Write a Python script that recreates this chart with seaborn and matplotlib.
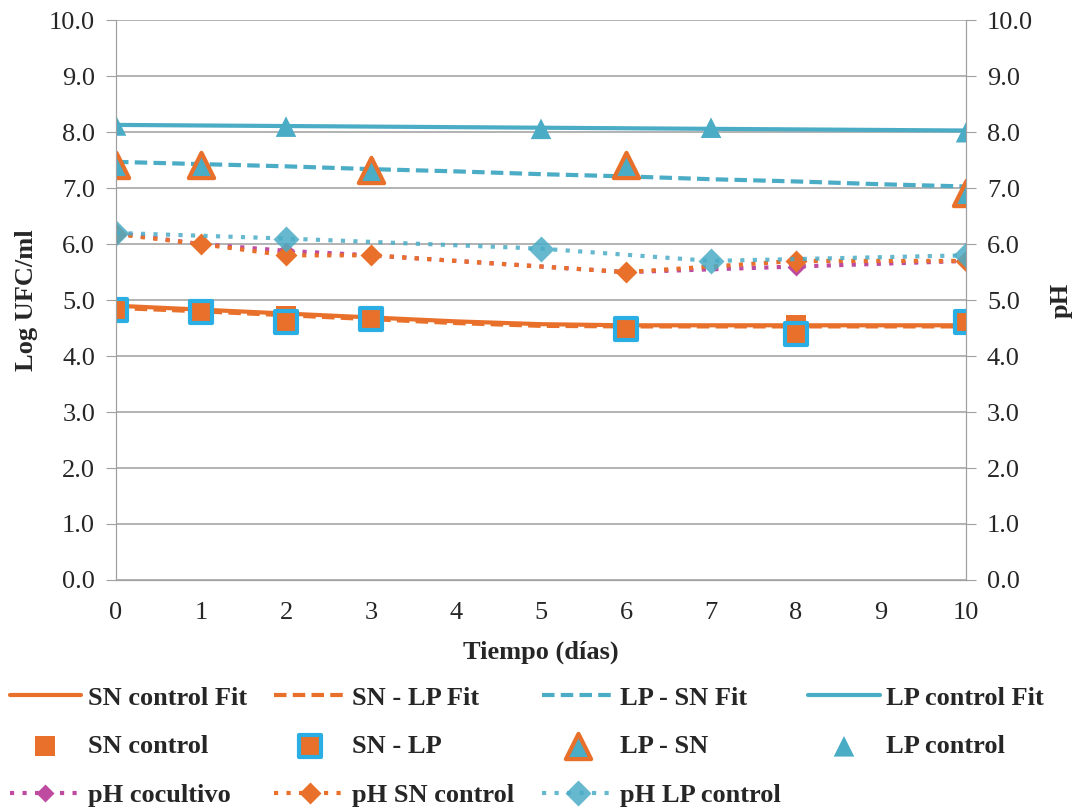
import matplotlib
matplotlib.use("Agg")
import matplotlib.pyplot as plt
import seaborn as sns

# Measured points (Log UFC/ml)
days_sn = [0, 1, 2, 3, 6, 8, 10]
sn_control = [4.85, 4.83, 4.72, 4.68, 4.50, 4.56, 4.60]
sn_lp = [4.82, 4.79, 4.60, 4.66, 4.48, 4.40, 4.60]

days_lp_sn = [0, 1, 3, 6, 10]
lp_sn = [7.42, 7.42, 7.33, 7.41, 6.92]

days_lp = [0, 2, 5, 7, 10]
lp_control = [8.12, 8.10, 8.06, 8.08, 8.00]

# Fitted curves
days_fit = [0, 1, 2, 3, 4, 5, 6, 7, 8, 9, 10]
sn_control_fit = [4.90, 4.83, 4.76, 4.69, 4.62, 4.57, 4.55, 4.55, 4.55, 4.55, 4.55]
sn_lp_fit = [4.86, 4.80, 4.73, 4.66, 4.59, 4.54, 4.53, 4.53, 4.53, 4.53, 4.53]
lp_sn_fit = [7.47, 7.43, 7.39, 7.34, 7.30, 7.25, 7.21, 7.16, 7.12, 7.07, 7.03]
lp_control_fit = [8.13, 8.12, 8.11, 8.10, 8.09, 8.08, 8.07, 8.06, 8.05, 8.04, 8.03]

# pH
days_ph = [0, 1, 2, 3, 6, 8, 10]
ph_cocultivo = [6.20, 6.00, 5.88, 5.80, 5.50, 5.60, 5.70]
ph_sn_control = [6.18, 6.00, 5.80, 5.80, 5.50, 5.70, 5.70]
days_ph_lp = [0, 2, 5, 7, 10]
ph_lp_control = [6.20, 6.10, 5.92, 5.70, 5.80]

orange = "#E8702A"
blue = "#4BACC6"
light_blue = "#2AAEE4"
purple = "#BE4BA0"

sns.set_style("white")
plt.rcParams['font.family'] = ['Liberation Serif', 'DejaVu Serif']

fig = plt.figure(figsize=(10.77, 8.10), dpi=100)
ax = fig.add_axes([0.1077, 0.284, 0.7893, 0.691])
ax2 = ax.twinx()

# fit lines
sns.lineplot(x=days_fit, y=sn_control_fit, ax=ax, color=orange, linewidth=3, label="SN control Fit")
sns.lineplot(x=days_fit, y=sn_lp_fit, ax=ax, color=orange, linewidth=3, linestyle=(0, (3, 1.5)), label="SN - LP Fit")
sns.lineplot(x=days_fit, y=lp_sn_fit, ax=ax, color=blue, linewidth=3, linestyle=(0, (3, 1.5)), label="LP - SN Fit")
sns.lineplot(x=days_fit, y=lp_control_fit, ax=ax, color=blue, linewidth=3, label="LP control Fit")

# measured points
sns.scatterplot(x=days_sn, y=sn_control, ax=ax, marker="s", s=200, color=orange, edgecolor="none", label="SN control", zorder=4)
sns.scatterplot(x=days_sn, y=sn_lp, ax=ax, marker="s", s=260, color=orange, edgecolor=light_blue, linewidth=3, label="SN - LP", zorder=5)
sns.scatterplot(x=days_lp_sn, y=lp_sn, ax=ax, marker="^", s=330, color=blue, edgecolor=orange, linewidth=3, label="LP - SN", zorder=5)
sns.scatterplot(x=days_lp, y=lp_control, ax=ax, marker="^", s=220, color=blue, edgecolor="none", label="LP control", zorder=5)

# pH series on the secondary axis
sns.lineplot(x=days_ph, y=ph_cocultivo, ax=ax2, color=purple, linewidth=3, linestyle=(0, (1, 2)),
             marker="D", markersize=9, markeredgecolor="none", label="pH cocultivo")
sns.lineplot(x=days_ph, y=ph_sn_control, ax=ax2, color=orange, linewidth=3, linestyle=(0, (1, 2)),
             marker="D", markersize=11, markeredgecolor="none", label="pH SN control")
sns.lineplot(x=days_ph_lp, y=ph_lp_control, ax=ax2, color=blue, linewidth=3, linestyle=(0, (1, 2)),
             marker="D", markersize=13, markeredgecolor="none", alpha=0.85, label="pH LP control")

yticks = [i for i in range(11)]
for a in (ax, ax2):
    a.set_ylim(0, 10)
    a.set_yticks(yticks)
    a.set_yticklabels([f"{t:.1f}" for t in yticks], fontsize=19)
    for s in a.spines.values():
        s.set_color("#A0A0A0")
    a.spines["top"].set_visible(False)
    a.tick_params(axis="both", length=7, color="#A0A0A0", direction="out", pad=8)
    if a.get_legend() is not None:
        a.get_legend().remove()

ax.set_xlim(0, 10)
ax.set_xticks(range(11))
ax.set_xticklabels([str(i) for i in range(11)], fontsize=19)
ax.tick_params(axis="x", pad=10, length=6)
ax.grid(axis="y", color="#A6A6A6", linewidth=1.2)
ax.set_axisbelow(True)
ax.yaxis.set_ticks_position("left")
ax2.yaxis.set_ticks_position("right")

ax.set_xlabel("Tiempo (días)", fontsize=19, fontweight="bold", labelpad=12)
ax.set_ylabel("Log UFC/ml", fontsize=19, fontweight="bold", labelpad=8)
ax2.set_ylabel("pH", fontsize=19, fontweight="bold", labelpad=12)

h1, l1 = ax.get_legend_handles_labels()
h2, l2 = ax2.get_legend_handles_labels()
handles = dict(zip(l1 + l2, h1 + h2))
order = ["SN control Fit", "SN control", "pH cocultivo",
         "SN - LP Fit", "SN - LP", "pH SN control",
         "LP - SN Fit", "LP - SN", "pH LP control",
         "LP control Fit", "LP control"]
fig.legend([handles[k] for k in order], order, ncol=4, loc="lower left",
           bbox_to_anchor=(0.009, 0.004), frameon=False,
           prop={"size": 19, "weight": "bold"}, handlelength=2.7,
           handletextpad=0.25, columnspacing=1.05, labelspacing=0.95,
           borderpad=0.0, borderaxespad=0.0)

fig.savefig("out.png", dpi=100)
